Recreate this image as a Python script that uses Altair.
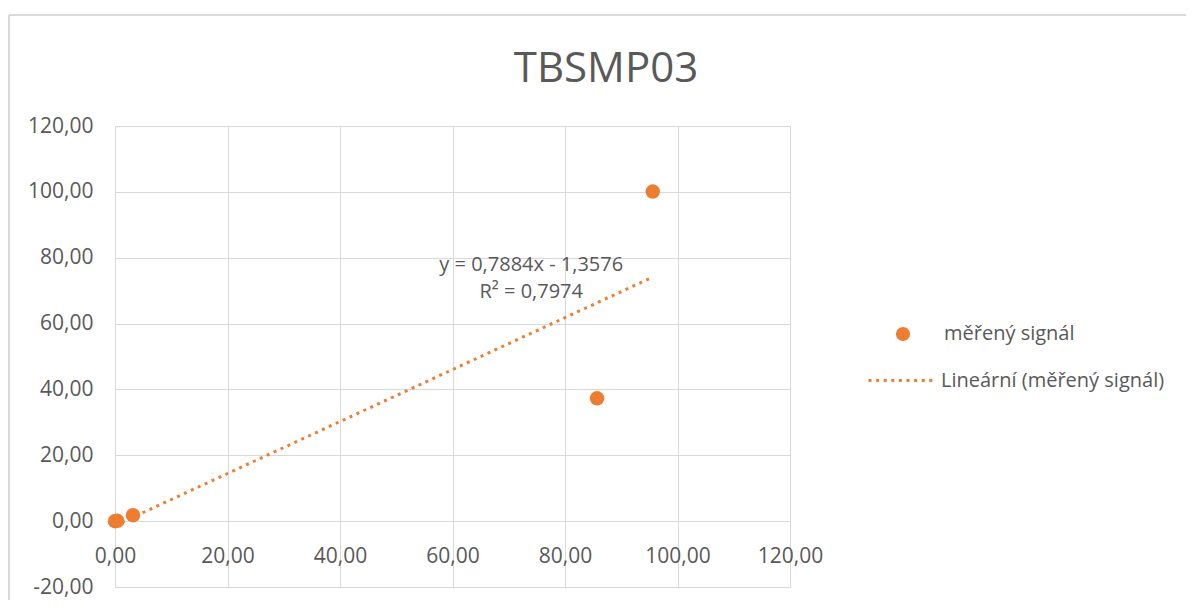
import altair as alt
import pandas as pd

# data
x_vals = [0.0, 0.4, 3.2, 85.7, 95.6]
y_vals = [0.0, 0.1, 1.8, 37.3, 100.1]
series_name = "měřený signál"
trend_name = "Lineární (měřený signál)"
chart_title = "TBSMP03"
eq_lines = ["y = 0,7884x - 1,3576", "R² = 0,7974"]
eq_x = [74.0, 74.0]
eq_y = [77.7, 69.5]
x_ticks = [0, 20, 40, 60, 80, 100, 120]
y_ticks = [-20, 0, 20, 40, 60, 80, 100, 120]

ORANGE = "#ED7D31"
GREY = "#595959"
GRID = "#D9D9D9"
FONT = "Open Sans"

df = pd.DataFrame({"x": x_vals, "y": y_vals, "series": series_name})
eq_df = pd.DataFrame({"x": eq_x, "y": eq_y, "t": eq_lines})
title_df = pd.DataFrame({"t": [chart_title]})

lab = "(datum.value < 0 ? '-' : '') + replace(format(abs(datum.value), '.2f'), '.', ',')"

xs = alt.Scale(domain=[0, 120], nice=False, zero=False)
ys = alt.Scale(domain=[-20, 120], nice=False, zero=False)

x_axis = alt.Axis(values=x_ticks, labelExpr=lab, grid=True, gridColor=GRID, domain=False,
                  ticks=False, title=None, labelFont=FONT, labelFontSize=21, labelColor=GREY,
                  labelPadding=24, offset=-66, labelFlush=False, labelOverlap=False)
y_axis = alt.Axis(values=y_ticks, labelExpr=lab, grid=True, gridColor=GRID, domain=False,
                  ticks=False, title=None, labelFont=FONT, labelFontSize=21, labelColor=GREY,
                  labelPadding=22, labelFlush=False, labelOverlap=False)

# outer chart frame (decoration): top and left edges only; the rest is off-page
one = pd.DataFrame({"k": [0]})
frame_top = alt.Chart(one).mark_rule(color=GRID, strokeWidth=2).encode(
    x=alt.value(-106), x2=alt.value(1100), y=alt.value(-111))
frame_left = alt.Chart(one).mark_rule(color=GRID, strokeWidth=2).encode(
    x=alt.value(-106), y=alt.value(-111), y2=alt.value(500))

title = alt.Chart(title_df).mark_text(
    font=FONT, fontSize=42, color=GREY, align="center", baseline="middle"
).encode(x=alt.value(491), y=alt.value(-57), text="t:N")

trend = alt.Chart(df).transform_regression("x", "y", method="linear").transform_calculate(
    s=f"'{trend_name}'"
).mark_line(strokeWidth=3, strokeDash=[3, 4.6]).encode(
    x=alt.X("x:Q", scale=xs, axis=x_axis),
    y=alt.Y("y:Q", scale=ys, axis=y_axis),
    stroke=alt.Stroke("s:N", scale=alt.Scale(domain=[trend_name], range=[ORANGE]),
                      legend=alt.Legend(title=None, orient="none", legendX=752, legendY=219,
                                        symbolType="stroke", symbolSize=4624, symbolStrokeWidth=3,
                                        symbolDash=[3, 4.6], labelOffset=3, padding=0,
                                        labelLimit=400, labelFont=FONT, labelFontSize=20,
                                        labelColor=GREY)),
)

points = alt.Chart(df).mark_point(filled=True, size=210, opacity=1).encode(
    x=alt.X("x:Q", scale=xs, axis=x_axis),
    y=alt.Y("y:Q", scale=ys, axis=y_axis),
    color=alt.Color("series:N", scale=alt.Scale(domain=[series_name], range=[ORANGE]),
                    legend=alt.Legend(title=None, orient="none", legendX=778, legendY=198,
                                      symbolType="circle", symbolSize=200, labelOffset=31,
                                      padding=0, labelLimit=400, labelFont=FONT, labelFontSize=20,
                                      labelColor=GREY)),
)

eq = alt.Chart(eq_df).mark_text(font=FONT, fontSize=20, color=GREY, align="center",
                                baseline="middle").encode(
    x=alt.X("x:Q", scale=xs), y=alt.Y("y:Q", scale=ys), text="t:N"
)

chart = alt.layer(frame_top, frame_left, title, trend, points, eq).properties(
    width=675, height=461,
    autosize=alt.AutoSizeParams(type="none"),
    padding={"left": 107, "top": 118, "right": 396, "bottom": 13},
).configure_view(stroke=None).configure(background="white")

chart.save("out.html", embed_options={"renderer": "svg", "actions": False})
